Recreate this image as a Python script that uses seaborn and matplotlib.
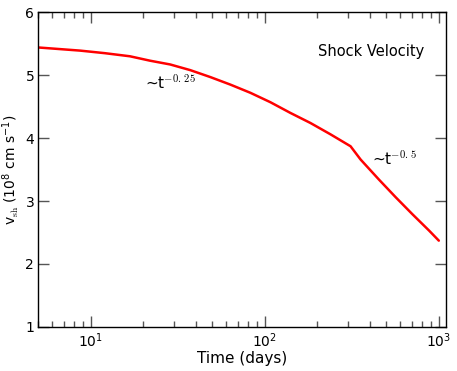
import matplotlib
matplotlib.use("Agg")
import matplotlib.pyplot as plt
import pandas as pd
import seaborn as sns

# Shock velocity (t in days, v in 1e8 cm/s)
time_days = [5, 8.7, 12, 16.8, 21.9, 28.6, 37.3, 48.6, 63.4, 82.6, 107.7,
             140.3, 182.9, 238.4, 311, 355, 453, 565, 705, 879, 1000]
v_shock = [5.44, 5.39, 5.35, 5.30, 5.23, 5.17, 5.08, 4.97, 4.85, 4.72, 4.57,
           4.40, 4.24, 4.06, 3.87, 3.66, 3.34, 3.06, 2.79, 2.53, 2.37]

y_ticks = [1, 2, 3, 4, 5, 6]

df = pd.DataFrame({"t": time_days, "v": v_shock})

sns.set_style("ticks")
plt.rcParams["font.family"] = ["DejaVu Sans"]
plt.rcParams["mathtext.fontset"] = "cm"
plt.rcParams["mathtext.default"] = "regular"
plt.rcParams["text.color"] = "black"

fig = plt.figure(figsize=(4.57, 3.71), dpi=100)
ax = fig.add_axes([0.084, 0.119, 0.892, 0.848])

sns.lineplot(data=df, x="t", y="v", color="red", linewidth=1.8, ax=ax)

ax.set_xscale("log")
ax.set_xlim(5, 1100)
ax.set_ylim(1, 6)
ax.set_yticks(y_ticks)

ax.tick_params(which="both", direction="in", top=True, right=True,
               labelsize=10, color="#555555", labelcolor="black")
ax.tick_params(which="major", length=8, width=1)
ax.tick_params(which="minor", length=4, width=1)
ax.tick_params(axis="y", pad=3)
ax.tick_params(axis="x", pad=3)
for s in ax.spines.values():
    s.set_color("black")
    s.set_linewidth(1)

ax.set_xlabel("Time (days)", fontsize=11, color="black", labelpad=1)
ax.set_ylabel(r"v$_{\rm sh}$ (10$^8$ cm s$^{-1}$)", fontsize=10,
              color="black", labelpad=3)

ax.text(406, 5.37, "Shock Velocity", fontsize=10.5, ha="center", va="center",
        color="black")
ax.text(20.5, 4.88, r"~t$^{\mathrm{-0.\,25}}$", fontsize=11, ha="left",
        va="center", color="black")
ax.text(415, 3.68, r"~t$^{\mathrm{-0.\,5}}$", fontsize=11, ha="left",
        va="center", color="black")

fig.savefig("out.png", dpi=100)
